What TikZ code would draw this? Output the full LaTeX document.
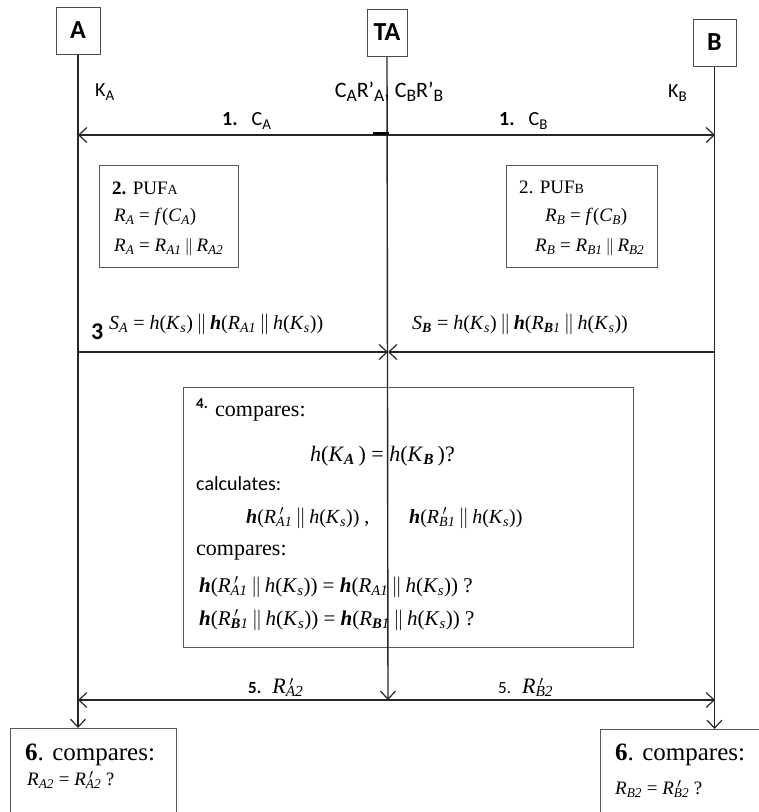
\documentclass[tikz,border=0pt]{standalone}
\usepackage{fontspec}
\usepackage{graphicx}
\setmainfont{Liberation Serif}
\newfontfamily\cb{Carlito}
\usetikzlibrary{arrows.meta}
\newcommand\ii[1]{\textit{#1}}
\newcommand\sbb[1]{\textsubscript{\itshape #1}}
\newcommand\ssub[1]{\raisebox{-0.2em}{\scalebox{0.75}{#1}}}
\newcommand\csub[1]{\raisebox{-0.2em}{\scalebox{0.8}{#1}}}
\newcommand\hb{\textbf{\textit{h}}}
\newcommand\dbar{\,\ensuremath{\|}\,}
\newcommand\Rpr[1]{\textit{R}\rlap{\,$'$}\textsubscript{\itshape #1}}
\begin{document}
\begin{tikzpicture}[x=1pt,y=-1pt,
  ent/.style={draw=black!70, line width=1pt, minimum width=44pt, minimum height=47pt, font=\cb\bfseries\fontsize{26}{30}\selectfont, inner sep=0pt},
  box/.style={draw=black!65, line width=1pt, inner sep=0pt},
  msg/.style={draw=black!85, line width=1.4pt, -{Straight Barb[length=8pt,width=15pt,line width=1.2pt]}},
  lbl/.style={inner sep=0pt, font=\cb\fontsize{20}{24}\selectfont},
  txt/.style={inner sep=0pt, anchor=west, font=\fontsize{19}{22}\selectfont},
  ftxt/.style={inner sep=0pt, anchor=west, font=\fontsize{20}{24}\selectfont},
]
\useasboundingbox (0,0) rectangle (759,812);
\clip (0,0) rectangle (759,812);

% entities
\node[ent] (A) at (78,30.5) {A};
\node[ent, minimum width=40pt] (TA) at (387,32.5) {TA};
\node[ent, minimum width=43pt] (B) at (714.5,42.5) {B};

% boxes
\node[box, minimum width=139pt, minimum height=102pt] (PA) at (168.5,216) {};
\node[box, minimum width=151pt, minimum height=102pt] (PB) at (581.5,216) {};
\node[box, minimum width=450pt, minimum height=260pt] (P4) at (408,517) {};
\node[box, minimum width=166pt, minimum height=110pt, anchor=north west] (A6) at (10,728) {};
\node[box, minimum width=180pt, minimum height=110pt, anchor=north west] (B6) at (600,729) {};

% lifeline points
\coordinate (a1) at (78,135);  \coordinate (t1) at (388,135); \coordinate (b1) at (715,135);
\coordinate (a3) at (78,352);  \coordinate (t3) at (388,352); \coordinate (b3) at (715,352);
\coordinate (a5) at (78,700);  \coordinate (t5) at (388,700); \coordinate (b5) at (715,700);
\coordinate (tm) at (373,133.5); \coordinate (tn) at (389,133.5);

% lifelines
\draw[msg] (A.south) -- (A.south |- A6.north);
\draw[msg] (TA.south) -- (t5);
\draw[msg] (B.south) -- (B.south |- B6.north);

% messages
\draw[msg] (t1) -- (a1);
\draw[msg] (t1) -- (b1);
\draw[line width=2.6pt] (tm) -- (tn);
\draw[msg] (a3) -- (t3);
\draw[msg] (b3) -- (t3);
\draw[msg] (t5) -- (a5);
\draw[msg] (t5) -- (b5);

% top labels
\node[lbl, anchor=west] (ka) at (95,92) {K\ssub{A}};
\node[lbl, font=\cb\fontsize{22}{26}\selectfont] (cr) at (389,92) {C\csub{A}R’\csub{A}, C\csub{B}R’\csub{B}};
\node[lbl, anchor=west] (kb) at (668,93) {K\ssub{B}};
\node[lbl, anchor=west] (m1a) at (222,121) {\textbf{1.}\hspace{14pt}C\ssub{A}};
\node[lbl, anchor=west] (m1b) at (499,121) {\textbf{1.}\hspace{14pt}C\ssub{B}};

% PUF A
\node[txt] (pa1) at (112,188) {\textbf{2.} PUF{\fontsize{14}{14}\selectfont A}};
\node[txt] (pa2) at (114,217) {\ii{R}\sbb{A} = \ii{f}(\ii{C}\sbb{A})};
\node[txt] (pa3) at (114,247) {\ii{R}\sbb{A} = \ii{R}\sbb{A1}\dbar\ii{R}\sbb{A2}};
% PUF B
\node[txt] (pb1) at (519,187) {2. PUF{\fontsize{14}{14}\selectfont B}};
\node[txt] (pb2) at (545,217) {\ii{R}\sbb{B} = \ii{f}(\ii{C}\sbb{B})};
\node[txt] (pb3) at (535,247) {\ii{R}\sbb{B} = \ii{R}\sbb{B1}\dbar\ii{R}\sbb{B2}};

% step 3
\node[lbl, anchor=west, font=\cb\bfseries\fontsize{24}{28}\selectfont] (s3) at (91,332) {3};
\node[txt, font=\fontsize{20}{24}\selectfont] (sa) at (109,324) {\ii{S}\sbb{A} = \ii{h}(\ii{K}\sbb{s})\dbar\hb(\ii{R}\sbb{A1}\dbar\ii{h}(\ii{K}\sbb{s}))};
\node[txt, font=\fontsize{20}{24}\selectfont] (sb) at (412,324) {\ii{S}\sbb{\textbf{B}} = \ii{h}(\ii{K}\sbb{s})\dbar\hb(\ii{R}\sbb{\textbf{B}1}\dbar\ii{h}(\ii{K}\sbb{s}))};

% step 4
\node[inner sep=0pt, anchor=west, font=\cb\bfseries\fontsize{15}{18}\selectfont] (n4) at (196,404) {4.};
\node[ftxt, font=\fontsize{22}{26}\selectfont] (c4a) at (215,414) {compares:};
\node[ftxt, font=\fontsize{22}{26}\selectfont] (c4b) at (310,456) {\ii{h}(\ii{K}\sbb{\textbf{A}}\,) = \ii{h}(\ii{K}\sbb{\textbf{B}}\,)?};
\node[lbl, anchor=west, font=\cb\fontsize{20}{24}\selectfont] (c4c) at (196,484) {calculates:};
\node[ftxt] (c4d) at (246,518) {\hb(\Rpr{A1}\dbar\ii{h}(\ii{K}\sbb{s})) ,};
\node[ftxt] (c4e) at (409,518) {\hb(\Rpr{B1}\dbar\ii{h}(\ii{K}\sbb{s}))};
\node[ftxt, font=\fontsize{22}{26}\selectfont] (c4f) at (196,553) {compares:};
\node[ftxt, font=\fontsize{21}{25}\selectfont] (c4g) at (199,587) {\hb(\Rpr{A1}\dbar\ii{h}(\ii{K}\sbb{s})) = \hb(\ii{R}\sbb{A1}\dbar\ii{h}(\ii{K}\sbb{s})) ?};
\node[ftxt, font=\fontsize{21}{25}\selectfont] (c4h) at (199,620) {\hb(\Rpr{\textbf{B}1}\dbar\ii{h}(\ii{K}\sbb{s})) = \hb(\ii{R}\sbb{\textbf{B}1}\dbar\ii{h}(\ii{K}\sbb{s})) ?};

% step 5
\node[lbl, anchor=south west, font=\fontsize{22}{26}\selectfont] (m5a) at (248,697) {{\cb\bfseries\fontsize{17}{20}\selectfont 5.}\ \ \Rpr{A2}};
\node[lbl, anchor=south west, font=\fontsize{22}{26}\selectfont] (m5b) at (498,697) {{\cb\fontsize{17}{20}\selectfont 5.}\ \ \Rpr{B2}};

% step 6
\node[ftxt, font=\fontsize{25}{30}\selectfont] (a6a) at (25,755) {\textbf{6}. compares:};
\node[txt] (a6b) at (27,780) {\ii{R}\sbb{A2} = \Rpr{A2} ?};
\node[ftxt, font=\fontsize{25}{30}\selectfont] (b6a) at (615,755) {\textbf{6}. compares:};
\node[txt] (b6b) at (615,789) {\ii{R}\sbb{B2} = \Rpr{B2} ?};
\end{tikzpicture}
\end{document}
